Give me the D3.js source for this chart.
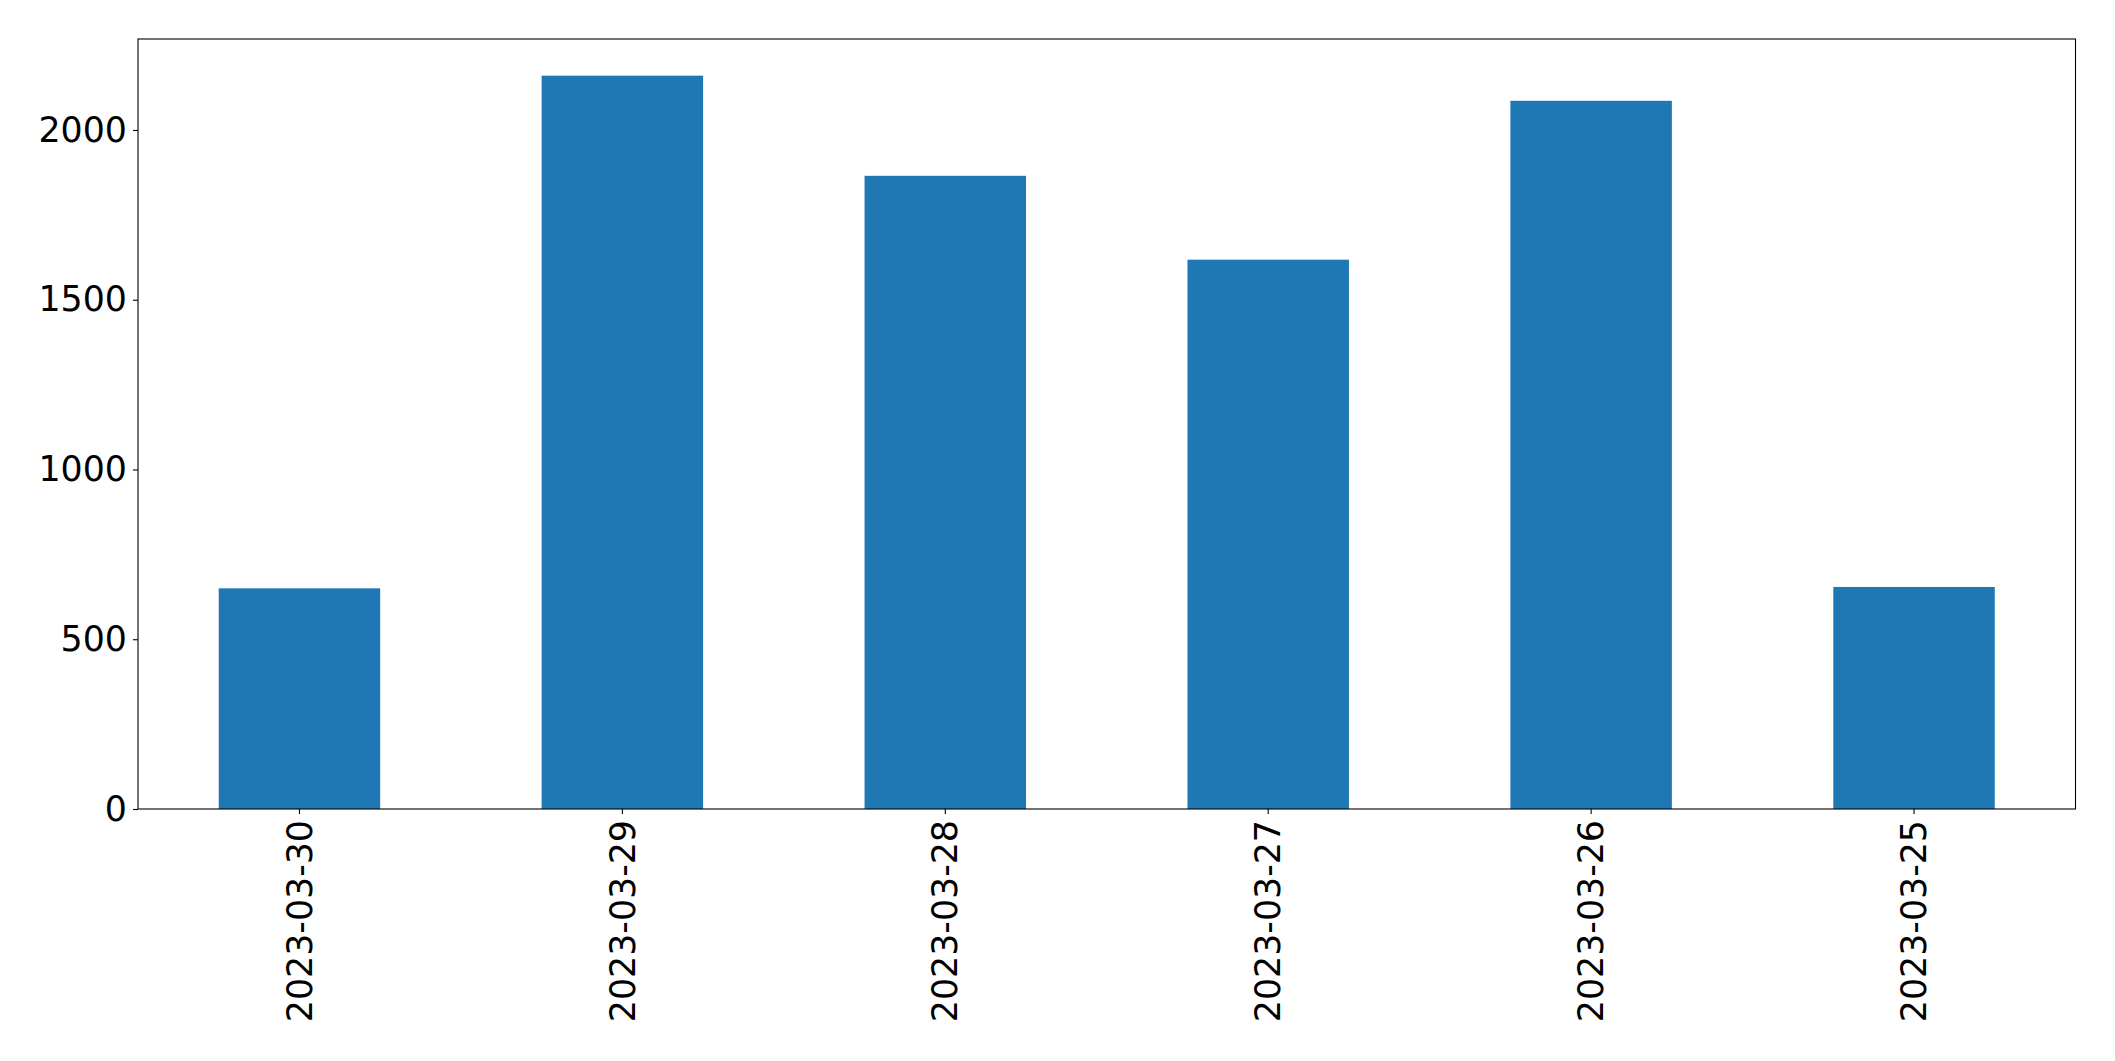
<!DOCTYPE html>
<html>
<head>
<meta charset="utf-8">
<script src="https://cdn.jsdelivr.net/npm/d3@7"></script>
<style>
  body { margin: 0; background: #ffffff; }
  text { font-family: "DejaVu Sans", sans-serif; }
</style>
</head>
<body>
<div id="chart"></div>
<script>
// Data
var dates = ["2023-03-30", "2023-03-29", "2023-03-28", "2023-03-27", "2023-03-26", "2023-03-25"];
var counts = [650, 2160, 1865, 1618, 2086, 654];
var yTicks = [0, 500, 1000, 1500, 2000];

var width = 2115;
var height = 1061;
var margin = { top: 39, right: 39.5, bottom: 252, left: 138 };
var fontSize = 34.8;
var tickLen = 5;

var svg = d3.select("#chart")
    .append("svg")
    .attr("width", width)
    .attr("height", height);

var rows = dates.map(function(d, i) {
    return { date: d, value: counts[i] };
});

// Scales
var xScale = d3.scaleBand()
    .domain(dates)
    .range([margin.left, width - margin.right])
    .paddingInner(0.5)
    .paddingOuter(0.25);

var yScale = d3.scaleLinear()
    .domain([0, d3.max(counts) * 1.05])
    .range([height - margin.bottom, margin.top]);

// Bars
svg.append("g")
    .selectAll("rect")
    .data(rows)
    .enter()
    .append("rect")
    .attr("x", function(d) { return xScale(d.date); })
    .attr("y", function(d) { return yScale(d.value); })
    .attr("width", xScale.bandwidth())
    .attr("height", function(d) { return yScale(0) - yScale(d.value); })
    .attr("fill", "#1f77b4");

// x axis
var xAxis = d3.axisBottom(xScale)
    .tickSize(tickLen)
    .tickSizeOuter(0)
    .tickPadding(5);

var xg = svg.append("g")
    .attr("transform", `translate(0, ${height - margin.bottom})`)
    .call(xAxis);

xg.select(".domain").remove();
xg.selectAll(".tick line").attr("stroke", "#000").attr("stroke-width", 1.1);
xg.selectAll(".tick text")
    .attr("font-size", fontSize)
    .attr("font-family", "DejaVu Sans")
    .attr("fill", "#000")
    .attr("text-anchor", "end")
    .attr("dy", "0.35em")
    .attr("y", 0)
    .attr("transform", `translate(0, ${tickLen + 6}) rotate(-90)`);

// y axis
var yAxis = d3.axisLeft(yScale)
    .tickValues(yTicks)
    .tickFormat(d3.format("d"))
    .tickSize(tickLen)
    .tickSizeOuter(0)
    .tickPadding(6);

var yg = svg.append("g")
    .attr("transform", `translate(${margin.left}, 0)`)
    .call(yAxis);

yg.select(".domain").remove();
yg.selectAll(".tick line").attr("stroke", "#000").attr("stroke-width", 1.1);
yg.selectAll(".tick text")
    .attr("font-size", fontSize)
    .attr("font-family", "DejaVu Sans")
    .attr("fill", "#000");

// Frame around plot area
svg.append("rect")
    .attr("x", margin.left)
    .attr("y", margin.top)
    .attr("width", width - margin.left - margin.right)
    .attr("height", height - margin.top - margin.bottom)
    .attr("fill", "none")
    .attr("stroke", "#000")
    .attr("stroke-width", 1.1);
</script>
</body>
</html>
